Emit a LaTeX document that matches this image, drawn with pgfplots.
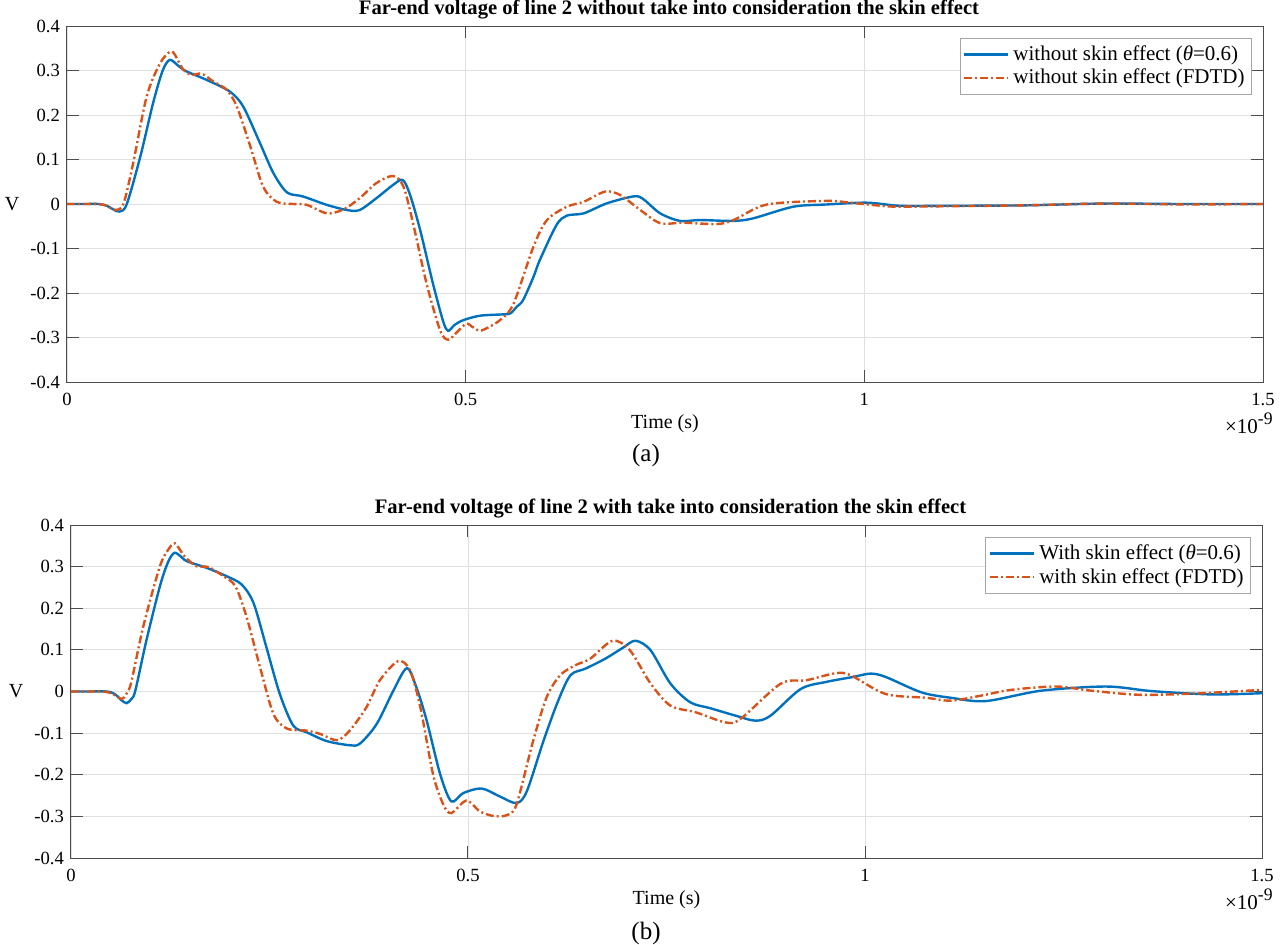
\documentclass[border=0pt]{standalone}
\usepackage{fontspec}
\setmainfont{Liberation Serif}
\usepackage{pgfplots}
\pgfplotsset{compat=1.18}

\definecolor{mblue}{HTML}{0072BD}
\definecolor{morange}{HTML}{D95319}

\pgfplotsset{
  farend/.style={
    scale only axis,
    anchor=south west,
    xmin=0, xmax=1.5, ymin=-0.4, ymax=0.4,
    xtick={0,0.5,1,1.5},
    ytick={-0.4,-0.3,-0.2,-0.1,0,0.1,0.2,0.3,0.4},
    grid=major,
    major grid style={black!12, line width=0.4pt},
    tick align=inside,
    major tick length=6pt,
    tick style={black!70, line width=0.5pt},
    axis line style={black!70, line width=0.5pt},
    /pgf/number format/assume math mode=true,
    ticklabel style={font=\fontsize{9.3}{11}\selectfont},
    xticklabel style={yshift=-2pt},
    xlabel={Time (s)},
    xlabel style={at={(axis description cs:0.5,0)}, anchor=center, yshift=-21pt,
      font=\fontsize{10}{12}\selectfont},
    ylabel={V},
    ylabel style={at={(axis description cs:0,0.5)}, anchor=center, rotate=-90,
      xshift=-27.5pt, font=\fontsize{10}{12}\selectfont},
    title style={font=\bfseries\fontsize{10.3}{12}\selectfont,
      at={(axis description cs:0.5,1)}, anchor=base, yshift=0pt, xshift=2pt},
    legend cell align=left,
    legend style={at={(1,1)}, anchor=north east, xshift=-5.5pt, yshift=-6pt,
      draw=black!35, font=\fontsize{10.5}{12}\selectfont, inner sep=1.5pt,
      row sep=-1pt},
    legend image code/.code={\draw[#1] (0pt,0pt) -- (22pt,0pt);},
  },
  blueline/.style={mblue, line width=1.2pt, smooth, tension=0.5, mark=none},
  orangeline/.style={morange, line width=1.2pt,
    dash pattern=on 4pt off 1.5pt on 1pt off 1.5pt, smooth, tension=0.5, mark=none},
}

\newcommand{\timescale}{\fontsize{10.5}{12}\selectfont
  ×10\raisebox{0.85ex}{\fontsize{8.8}{10}\selectfont -9}}

\begin{document}
\begin{tikzpicture}
\useasboundingbox (0,0) rectangle (643.5pt,-472pt);

% (a) without skin effect
\begin{axis}[farend, name=top, at={(33.5pt,-191pt)}, width=598pt, height=178pt,
  title={Far-end voltage of line 2 without take into consideration the skin effect}]
\addplot[blueline] coordinates {
 (0,0) (0.02,0) (0.04,0) (0.05,-0.004) (0.058,-0.012) (0.066,-0.017)
 (0.075,0) (0.092,0.107) (0.108,0.227) (0.120,0.300) (0.129,0.324)
 (0.140,0.310) (0.150,0.298) (0.175,0.279) (0.204,0.253) (0.221,0.219)
 (0.242,0.137) (0.259,0.069) (0.276,0.026) (0.296,0.017) (0.326,-0.002)
 (0.351,-0.0135) (0.367,-0.0135) (0.388,0.013) (0.409,0.043) (0.421,0.054)
 (0.430,0.022) (0.443,-0.059) (0.459,-0.179) (0.472,-0.265) (0.478,-0.285)
 (0.486,-0.272) (0.497,-0.261) (0.518,-0.251) (0.547,-0.248) (0.556,-0.246)
 (0.564,-0.231) (0.572,-0.216) (0.585,-0.164) (0.593,-0.126) (0.614,-0.047)
 (0.627,-0.026) (0.648,-0.021) (0.677,0.0015) (0.710,0.017) (0.722,0.012)
 (0.744,-0.021) (0.769,-0.038) (0.794,-0.036) (0.836,-0.038) (0.861,-0.032)
 (0.911,-0.006) (0.953,-0.001) (1.003,0.003) (1.045,-0.004) (1.1,-0.004)
 (1.2,-0.003) (1.3,0.001) (1.4,0) (1.5,0)
};
\addlegendentry{without skin effect (\textit{θ}=0.6)}
\addplot[orangeline] coordinates {
 (0,0) (0.02,0) (0.04,0) (0.05,-0.004) (0.060,-0.0135) (0.0707,0)
 (0.083,0.092) (0.100,0.242) (0.117,0.317) (0.131,0.343) (0.140,0.320)
 (0.146,0.302) (0.156,0.290) (0.169,0.293) (0.183,0.276) (0.200,0.257)
 (0.213,0.219) (0.230,0.129) (0.246,0.039) (0.263,0.005) (0.284,0.0)
 (0.301,-0.002) (0.326,-0.021) (0.347,-0.012) (0.367,0.013) (0.388,0.047)
 (0.409,0.063) (0.422,0.039) (0.434,-0.043) (0.451,-0.179) (0.468,-0.284)
 (0.478,-0.305) (0.489,-0.288) (0.501,-0.269) (0.510,-0.278) (0.520,-0.284)
 (0.543,-0.261) (0.560,-0.224) (0.585,-0.096) (0.602,-0.036) (0.627,-0.006)
 (0.648,0.005) (0.675,0.028) (0.694,0.020) (0.719,-0.0135) (0.744,-0.043)
 (0.773,-0.042) (0.815,-0.045) (0.836,-0.036) (0.878,-0.001) (0.953,0.007)
 (0.982,0.003) (1.024,-0.0045) (1.045,-0.006) (1.1,-0.005) (1.2,-0.003)
 (1.3,0.001) (1.4,-0.001) (1.5,0)
};
\addlegendentry{without skin effect (FDTD)}
\end{axis}
\node[anchor=base east, inner sep=0pt, xshift=5pt, yshift=-25.5pt]
  at (top.south east) {\timescale};

% (b) with skin effect
\begin{axis}[farend, name=bot, at={(35.5pt,-429pt)}, width=595.5pt, height=166.5pt,
  title={Far-end voltage of line 2 with take into consideration the skin effect}]
\addplot[blueline] coordinates {
 (0,0) (0.02,0) (0.045,0) (0.055,-0.006) (0.063,-0.020) (0.070,-0.028)
 (0.076,-0.018) (0.081,0.002) (0.095,0.123) (0.112,0.253) (0.122,0.310)
 (0.130,0.333) (0.138,0.325) (0.146,0.313) (0.171,0.297) (0.196,0.277)
 (0.215,0.257) (0.230,0.212) (0.246,0.107) (0.263,-0.006) (0.280,-0.082)
 (0.297,-0.098) (0.322,-0.119) (0.351,-0.129) (0.364,-0.125) (0.385,-0.078)
 (0.406,0.002) (0.423,0.056) (0.435,0.010) (0.448,-0.070) (0.465,-0.199)
 (0.479,-0.264) (0.494,-0.244) (0.517,-0.233) (0.540,-0.252) (0.561,-0.268)
 (0.574,-0.240) (0.595,-0.119) (0.613,-0.025) (0.629,0.039) (0.648,0.055)
 (0.673,0.079) (0.695,0.105) (0.711,0.122) (0.730,0.099) (0.755,0.019)
 (0.780,-0.026) (0.805,-0.040) (0.837,-0.058) (0.862,-0.070) (0.881,-0.058)
 (0.919,0.006) (0.951,0.023) (0.985,0.035) (1.007,0.043) (1.026,0.035)
 (1.071,-0.002) (1.108,-0.015) (1.152,-0.023) (1.222,0.002) (1.304,0.012)
 (1.361,0.001) (1.437,-0.007) (1.5,-0.004)
};
\addlegendentry{With skin effect (\textit{θ}=0.6)}
\addplot[orangeline] coordinates {
 (0,0) (0.02,0) (0.04,0) (0.052,-0.005) (0.064,-0.018) (0.070,-0.005)
 (0.076,0.023) (0.091,0.156) (0.112,0.301) (0.124,0.345) (0.131,0.356)
 (0.143,0.325) (0.158,0.301) (0.173,0.299) (0.192,0.277) (0.207,0.253)
 (0.221,0.180) (0.238,0.059) (0.255,-0.054) (0.272,-0.089) (0.297,-0.094)
 (0.314,-0.102) (0.335,-0.117) (0.351,-0.094) (0.372,-0.038) (0.389,0.027)
 (0.412,0.073) (0.427,0.051) (0.440,-0.038) (0.456,-0.199) (0.469,-0.272)
 (0.479,-0.292) (0.498,-0.262) (0.515,-0.288) (0.532,-0.299) (0.549,-0.297)
 (0.561,-0.272) (0.582,-0.119) (0.599,-0.014) (0.616,0.039) (0.635,0.063)
 (0.654,0.079) (0.682,0.122) (0.704,0.099) (0.730,0.019) (0.755,-0.034)
 (0.787,-0.050) (0.824,-0.074) (0.843,-0.066) (0.894,0.019) (0.926,0.027)
 (0.963,0.044) (0.982,0.039) (1.026,-0.006) (1.077,-0.015) (1.108,-0.022)
 (1.146,-0.010) (1.184,0.004) (1.241,0.012) (1.285,0.002) (1.348,-0.008)
 (1.424,-0.004) (1.5,0.004)
};
\addlegendentry{with skin effect (FDTD)}
\end{axis}
\node[anchor=base east, inner sep=0pt, xshift=5.5pt, yshift=-25.5pt]
  at (bot.south east) {\timescale};

\node[font=\fontsize{12.5}{14}\selectfont] at (323pt,-227.5pt) {(a)};
\node[font=\fontsize{12.5}{14}\selectfont] at (323pt,-466.5pt) {(b)};
\end{tikzpicture}
\end{document}
